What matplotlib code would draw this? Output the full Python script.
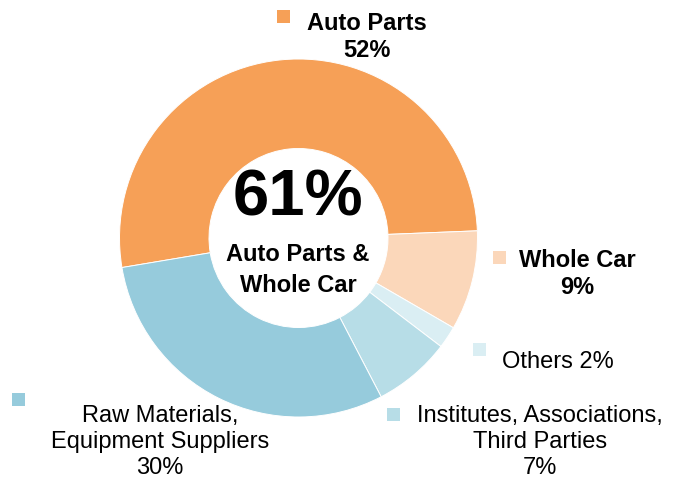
import matplotlib
matplotlib.use("Agg")
import matplotlib.pyplot as plt
from matplotlib.patches import Rectangle

plt.rcParams['font.family'] = ['Liberation Sans', 'DejaVu Sans']

# data
segments = ['Auto Parts', 'Whole Car', 'Others', 'Institutes, Associations,\nThird Parties',
            'Raw Materials,\nEquipment Suppliers']
shares = [52, 9, 2, 7, 30]
colors = ['#F6A057', '#FBD7BA', '#DAEEF3', '#B7DDE7', '#96CBDC']
center_value = '61%'
center_label = 'Auto Parts &\nWhole Car'

W, H = 681, 482
fig = plt.figure(figsize=(W / 100, H / 100), dpi=100)

# donut axes (pixel geometry: centre 298,238 radius 179)
cx, cy, r = 298.5, 238, 179
ax = fig.add_axes([(cx - r) / W, (H - cy - r) / H, 2 * r / W, 2 * r / H])
ax.pie(shares, colors=colors, startangle=189.5, counterclock=False, radius=1,
       wedgeprops=dict(width=0.5, edgecolor='white', linewidth=0.7))
ax.set_xlim(-1, 1)
ax.set_ylim(-1, 1)
ax.set_axis_off()

def px(x, y):
    return x / W, 1 - y / H

# centre text
fig.text(*px(298, 199), center_value, ha='center', va='center', fontsize=47, fontweight='bold')
fig.text(*px(298, 270), center_label, ha='center', va='center', fontsize=17,
         fontweight='bold', linespacing=1.4)

# labels: (square x, square y, text x, text y, bold)
label_pos = [
    (277, 10, 367, 37, True),
    (493, 251, 577, 274, True),
    (473, 343, 558, 362, False),
    (387, 408, 540, 442, False),
    (12, 393, 160, 442, False),
]
texts = [
    f'{segments[0]}\n{shares[0]}%',
    f'{segments[1]}\n{shares[1]}%',
    f'{segments[2]} {shares[2]}%',
    f'{segments[3]}\n{shares[3]}%',
    f'{segments[4]}\n{shares[4]}%',
]
for (sx, sy, tx, ty, bold), txt, c in zip(label_pos, texts, colors):
    fig.add_artist(Rectangle(px(sx, sy + 13), 13 / W, 13 / H, transform=fig.transFigure,
                             facecolor=c, edgecolor='none'))
    fig.text(*px(tx, ty), txt, ha='center', va='center', fontsize=17,
             fontweight='bold' if bold else 'normal', linespacing=1.25)

fig.savefig('out.png', dpi=100)
